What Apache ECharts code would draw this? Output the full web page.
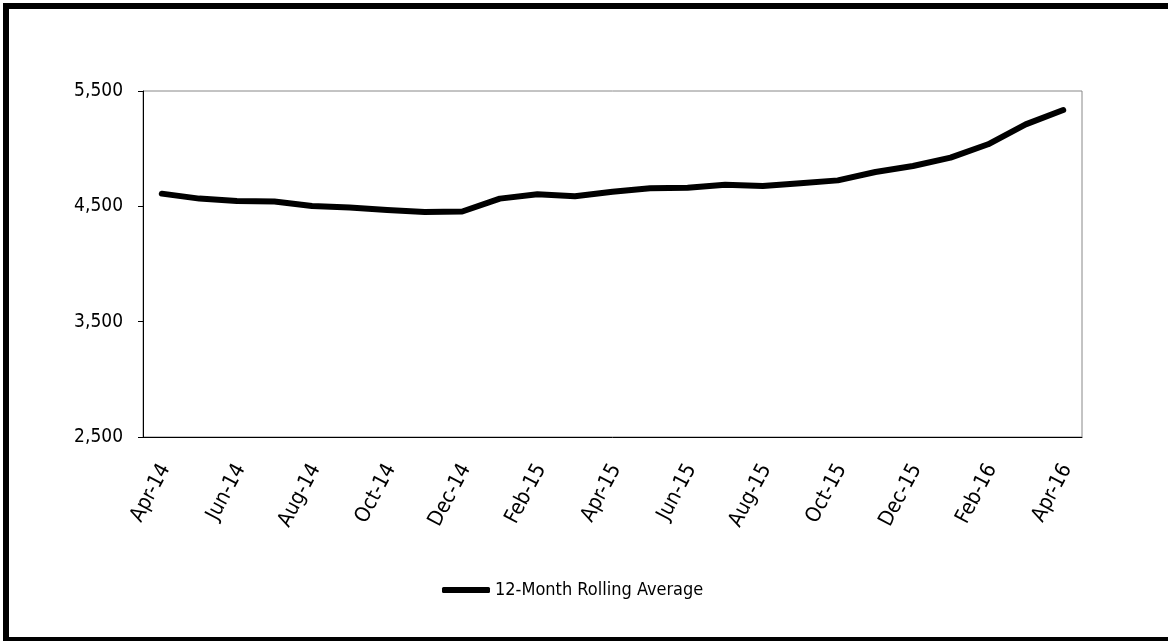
<!DOCTYPE html>
<html>
<head>
<meta charset="utf-8">
<script src="https://cdn.jsdelivr.net/npm/echarts@6/dist/echarts.min.js"></script>
<style>
  html, body { margin: 0; padding: 0; background: #fff; }
  #echarts { width: 1168px; height: 641px; }
</style>
</head>
<body>
<div id="echarts"></div>
<script>
// months on the x axis
var months = ['Apr-14', 'May-14', 'Jun-14', 'Jul-14', 'Aug-14', 'Sep-14', 'Oct-14', 'Nov-14', 'Dec-14',
    'Jan-15', 'Feb-15', 'Mar-15', 'Apr-15', 'May-15', 'Jun-15', 'Jul-15', 'Aug-15', 'Sep-15', 'Oct-15',
    'Nov-15', 'Dec-15', 'Jan-16', 'Feb-16', 'Mar-16', 'Apr-16'];

// 12-month rolling average
var rollingAvg = [4610, 4567, 4546, 4541, 4503, 4489, 4468, 4451, 4455,
    4567, 4604, 4587, 4627, 4656, 4662, 4688, 4676, 4700, 4725,
    4798, 4850, 4922, 5038, 5211, 5335];

var seriesName = '12-Month Rolling Average';
var font = '"DejaVu Sans Condensed", "Liberation Sans", sans-serif';

var myEChart = echarts.init(document.getElementById('echarts'));

var chartOption = {
    animation: false,
    backgroundColor: '#fff',
    graphic: [{
        type: 'rect',
        shape: { x: 6, y: 6, width: 1170, height: 634 },
        style: { fill: 'none', stroke: '#000', lineWidth: 6 },
        silent: true
    }],
    grid: {
        left: 143,
        right: 86,
        top: 91,
        bottom: 204,
        show: true,
        borderColor: '#888',
        borderWidth: 1
    },
    legend: {
        data: [seriesName],
        left: 437,
        top: 576,
        itemWidth: 48,
        itemHeight: 6,
        itemGap: 10,
        icon: 'roundRect',
        textStyle: { fontFamily: font, fontSize: 18, color: '#000' }
    },
    xAxis: {
        type: 'category',
        data: months,
        boundaryGap: true,
        axisLine: { lineStyle: { color: '#000', width: 1 } },
        axisTick: { interval: 1, length: 5, lineStyle: { color: '#000' } },
        axisLabel: {
            interval: 1,
            rotate: 62,
            margin: 13,
            align: 'right',
            verticalAlign: 'top',
            padding: [0, 12, 0, 0],
            fontFamily: font,
            fontSize: 21,
            color: '#000'
        },
        splitLine: { show: false }
    },
    yAxis: {
        type: 'value',
        min: 2500,
        max: 5500,
        interval: 1000,
        axisLine: { show: true, lineStyle: { color: '#000', width: 1 } },
        axisTick: { show: true, length: 5, lineStyle: { color: '#000' } },
        axisLabel: {
            margin: 20,
            fontFamily: font,
            fontSize: 19,
            color: '#000',
            formatter: function (v) { return v.toLocaleString('en-US'); }
        },
        splitLine: { show: false }
    },
    series: [{
        name: seriesName,
        type: 'line',
        symbol: 'none',
        data: rollingAvg,
        lineStyle: { color: '#000', width: 6, cap: 'round', join: 'round' },
        itemStyle: { color: '#000' }
    }]
};

myEChart.setOption(chartOption);
</script>
</body>
</html>
